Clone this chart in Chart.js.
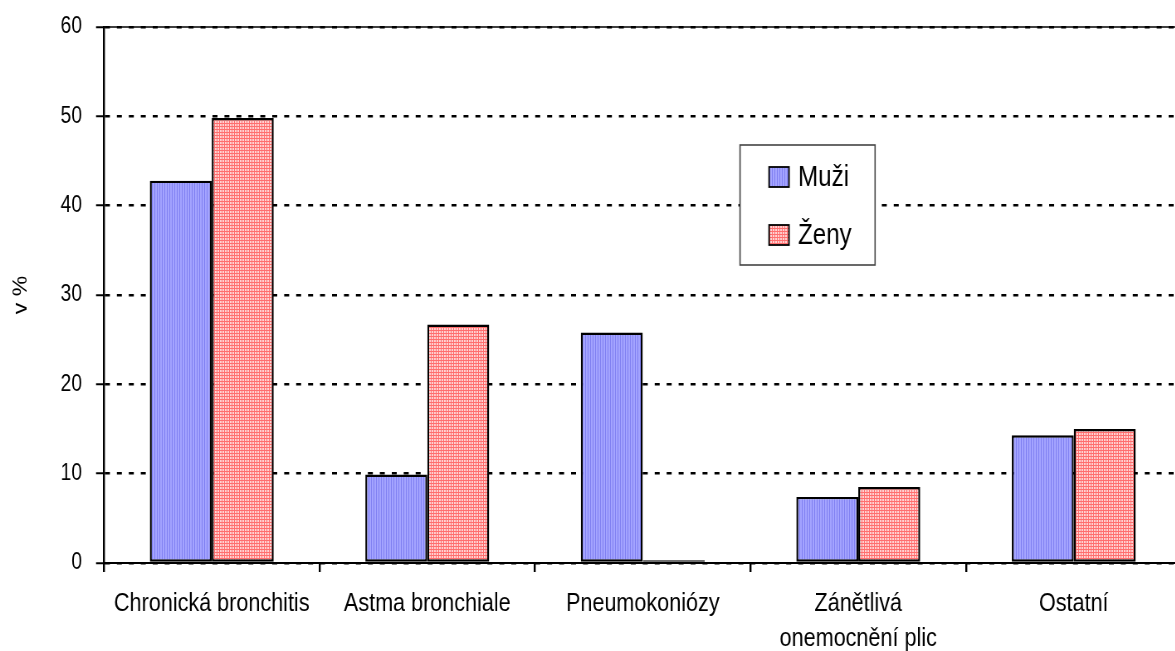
<!DOCTYPE html>
<html>
<head>
<meta charset="utf-8">
<title>Nemoci dýchací soustavy</title>
<script src="https://cdn.jsdelivr.net/npm/chart.js@4.4.0/dist/chart.umd.min.js"></script>
<style>
    body { margin: 0; background: #fff; overflow: hidden; }
    /* puvodni obrazek je vodorovne stlaceny (uzke pismo), tak graf kreslime sirsi a zuzime */
    #wrap { width: 1440px; height: 651px; transform: scaleX(0.83); transform-origin: 0 0; }
</style>
</head>
<body>
<div id="wrap"><canvas id="chart"></canvas></div>
<script>
let kategorie = ["Chronická bronchitis", "Astma bronchiale", "Pneumokoniózy", ["Zánětlivá", "onemocnění plic"], "Ostatní"];
let muzi = [42.8, 9.9, 25.8, 7.4, 14.3];
let zeny = [49.8, 26.7, 0.3, 8.5, 15.0];
let osaY = [0, 10, 20, 30, 40, 50, 60];

let pismo = '"Liberation Sans", Arial, sans-serif';

function vzor(sirka, vyska, kresli) {
    let c = document.createElement('canvas');
    c.width = sirka;
    c.height = vyska;
    let ctx = c.getContext('2d');
    kresli(ctx);
    return ctx.createPattern(c, 'repeat');
}

// svisle prouzky pro muze
let vzorMuzi = vzor(3, 1, function (ctx) {
    ctx.fillStyle = '#a4a4ff';
    ctx.fillRect(0, 0, 3, 1);
    ctx.fillStyle = '#8080f2';
    ctx.fillRect(0, 0, 1, 1);
});

// mrizka pro zeny
let vzorZeny = vzor(3, 3, function (ctx) {
    ctx.fillStyle = '#ffd2d2';
    ctx.fillRect(0, 0, 3, 3);
    ctx.fillStyle = '#ff6e6e';
    ctx.fillRect(0, 0, 3, 1);
    ctx.fillRect(0, 0, 1, 3);
});

const ramecek = {
    id: 'ramecek',
    afterDraw(chart, args, opts) {
        let ctx = chart.ctx;
        let a = chart.chartArea;
        ctx.save();
        // horni okraj grafu
        ctx.strokeStyle = '#000';
        ctx.lineWidth = 1.5;
        ctx.beginPath();
        ctx.moveTo(a.left, a.top);
        ctx.lineTo(a.right, a.top);
        ctx.stroke();

        // legenda
        ctx.fillStyle = '#fff';
        ctx.fillRect(opts.x, opts.y, opts.w, opts.h);
        ctx.strokeStyle = '#444';
        ctx.lineWidth = 1.6;
        ctx.strokeRect(opts.x, opts.y, opts.w, opts.h);
        ctx.font = opts.size + 'px ' + pismo;
        ctx.textBaseline = 'middle';
        chart.data.datasets.forEach(function (ds, i) {
            let sy = opts.y + 22 + i * 58;
            ctx.fillStyle = ds.backgroundColor;
            ctx.fillRect(opts.x + 35, sy, 24, 20);
            ctx.strokeStyle = '#000';
            ctx.lineWidth = 1.8;
            ctx.strokeRect(opts.x + 35, sy, 24, 20);
            ctx.fillStyle = '#000';
            ctx.fillText(ds.label, opts.x + 70, sy + 11);
        });
        ctx.restore();
    }
};

new Chart(document.getElementById("chart"), {
    type: 'bar',
    data: {
        labels: kategorie,
        datasets: [
        {
            label: "Muži",
            data: muzi,
            backgroundColor: vzorMuzi,
            borderColor: '#000',
            borderWidth: 2.4,
            borderSkipped: false
        },
        {
            label: "Ženy",
            data: zeny,
            backgroundColor: vzorZeny,
            borderColor: '#000',
            borderWidth: 2.4,
            borderSkipped: false
        }
        ]
    },
    options: {
        responsive: true,
        maintainAspectRatio: false,
        animation: false,
        layout: { padding: { top: 27, left: 11.5, right: 16.5, bottom: 0 } },
        datasets: { bar: { barPercentage: 1, categoryPercentage: 0.575 } },
        plugins: {
            legend: { display: false },
            tooltip: { enabled: false },
            ramecek: { x: 891.6, y: 145, w: 162.7, h: 120, size: 29 }
        },
        scales: {
            x: {
                afterFit: function (scale) { scale.height = 88; },
                grid: { drawOnChartArea: false, drawTicks: true, tickLength: 9, color: '#000', lineWidth: 2.4 },
                border: { display: true, color: '#000', width: 2 },
                ticks: {
                    color: '#000',
                    padding: 14,
                    maxRotation: 0,
                    minRotation: 0,
                    autoSkip: false,
                    font: { family: pismo, size: 26, lineHeight: 1.35 }
                }
            },
            y: {
                min: osaY[0],
                max: osaY[osaY.length - 1],
                afterFit: function (scale) {
                    scale.width = 113.8;
                    scale.paddingTop = 0;
                    scale.paddingBottom = 0;
                },
                afterBuildTicks: function (scale) {
                    scale.ticks = osaY.map(function (v) { return { value: v }; });
                },
                grid: {
                    color: '#000',
                    lineWidth: 2.5,
                    tickLength: 9.6,
                    tickWidth: 2,
                    tickBorderDash: []
                },
                border: { display: true, color: '#000', width: 2.4, dash: [6, 8.4] },
                ticks: {
                    color: '#000',
                    padding: 17,
                    font: { family: pismo, size: 23 }
                },
                title: {
                    display: true,
                    text: 'v %',
                    color: '#000',
                    padding: 0,
                    font: { family: pismo, size: 23 }
                }
            }
        }
    },
    plugins: [ramecek]
});
</script>
</body>
</html>
